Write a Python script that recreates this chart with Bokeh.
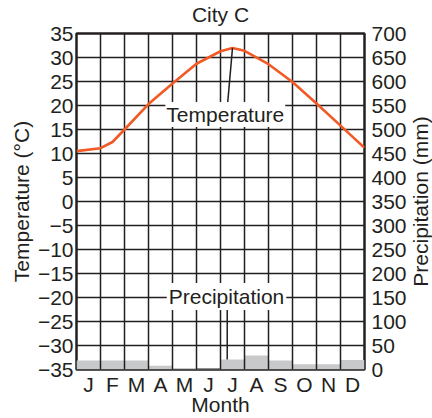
import math
from bokeh.plotting import figure
from bokeh.models import Range1d, LinearAxis, FixedTicker, Label
from bokeh.embed import file_html
from bokeh.resources import INLINE

# ---- data ----
months = ["J", "F", "M", "A", "M", "J", "J", "A", "S", "O", "N", "D"]
month_centers = [i + 0.5 for i in range(12)]
month_edges = list(range(13))
precip_mm = [19, 19, 19, 8, 3, 2, 21, 29, 19, 11, 11, 20]
temp_x = [0, 1, 1.5, 2, 3, 4, 5, 6, 6.5, 7, 8, 9, 10, 11, 12]
temp_c = [10.5, 11.1, 12.4, 15.0, 20.3, 24.6, 28.7, 31.3, 32.0, 31.4, 28.6, 24.9, 20.4, 15.8, 11.2]
temp_ticks = list(range(-35, 40, 5))
temp_tick_labels = [("\u2212" + str(-t)) if t < 0 else str(t) for t in temp_ticks]
precip_ticks = list(range(0, 750, 50))
precip_tick_labels = [str(t) for t in precip_ticks]

FONT = "Liberation Sans"
TXT = "#231f20"
FS = "21px"

p = figure(width=432, height=418, x_range=Range1d(0, 12), y_range=Range1d(-35, 35),
           output_backend="svg", toolbar_location=None,
           min_border_left=76, min_border_right=68, min_border_top=33, min_border_bottom=49)
p.extra_y_ranges = {"precip": Range1d(0, 700)}

p.outline_line_color = TXT
p.outline_line_width = 2.5
p.outline_line_alpha = 1.0
p.background_fill_color = "white"
p.border_fill_color = "white"

# grids
p.xgrid.ticker = FixedTicker(ticks=month_edges)
p.ygrid.ticker = FixedTicker(ticks=temp_ticks)
for g in (p.xgrid, p.ygrid):
    g.grid_line_color = TXT
    g.grid_line_width = 1.5
    g.grid_line_alpha = 1.0


def style_axis(ax):
    ax.major_tick_line_color = None
    ax.minor_tick_line_color = None
    ax.major_tick_out = 0
    ax.major_tick_in = 0
    ax.minor_tick_out = 0
    ax.axis_line_color = None
    ax.major_label_text_font = FONT
    ax.major_label_text_font_size = FS
    ax.major_label_text_color = TXT
    ax.axis_label_text_font = FONT
    ax.axis_label_text_font_size = FS
    ax.axis_label_text_font_style = "normal"
    ax.axis_label_text_color = TXT


# left axis (temperature)
left = p.left[0]
style_axis(left)
left.ticker = FixedTicker(ticks=temp_ticks)
left.major_label_overrides = dict(zip(temp_ticks, temp_tick_labels))
left.major_label_standoff = 3
left.axis_label = "Temperature (\u00b0C)"
left.axis_label_standoff = 2

# bottom axis (months)
bottom = p.below[0]
style_axis(bottom)
bottom.ticker = FixedTicker(ticks=month_centers)
bottom.major_label_overrides = dict(zip(month_centers, months))
bottom.major_label_standoff = 3
bottom.axis_label = "Month"
bottom.axis_label_standoff = -6

# right axis (precipitation)
right = LinearAxis(y_range_name="precip", ticker=FixedTicker(ticks=precip_ticks))
style_axis(right)
right.major_label_overrides = dict(zip(precip_ticks, precip_tick_labels))
right.major_label_standoff = 7
p.add_layout(right, "right")

text_kw = dict(text_font=FONT, text_font_size=FS, text_color=TXT)

# chart title and right-hand axis title, placed in the side panels
p.add_layout(Label(x=6, y=38.96, text="City C", text_align="center",
                   text_baseline="middle", **text_kw), "above")
p.add_layout(Label(x=14.333, y=0, text="Precipitation (mm)", angle=math.pi / 2,
                   text_align="center", text_baseline="middle", **text_kw), "right")

# precipitation bars
p.vbar(x=month_centers, top=precip_mm, bottom=0, width=1, y_range_name="precip",
       fill_color="#c8c9cb", line_color=None, level="image")

# temperature curve
p.line(temp_x, temp_c, line_color="#f15a24", line_width=2.6)

# leader lines
ipk = temp_c.index(max(temp_c))
p.segment(x0=[6.3], y0=[20.6], x1=[temp_x[ipk]], y1=[temp_c[ipk]], line_color=TXT, line_width=1.5)
p.segment(x0=[6.28], y0=[128], x1=[6.28], y1=[precip_mm[6]], line_color=TXT, line_width=1.5,
          y_range_name="precip")

# in-chart labels
p.add_layout(Label(x=6.2, y=18.1, text="Temperature", text_align="center",
                   text_baseline="middle", background_fill_color="white", padding=1, **text_kw))
p.add_layout(Label(x=6.25, y=-19.8, text="Precipitation", text_align="center",
                   text_baseline="middle", background_fill_color="white", padding=2, **text_kw))

open("out.html", "w").write(file_html(p, INLINE))
